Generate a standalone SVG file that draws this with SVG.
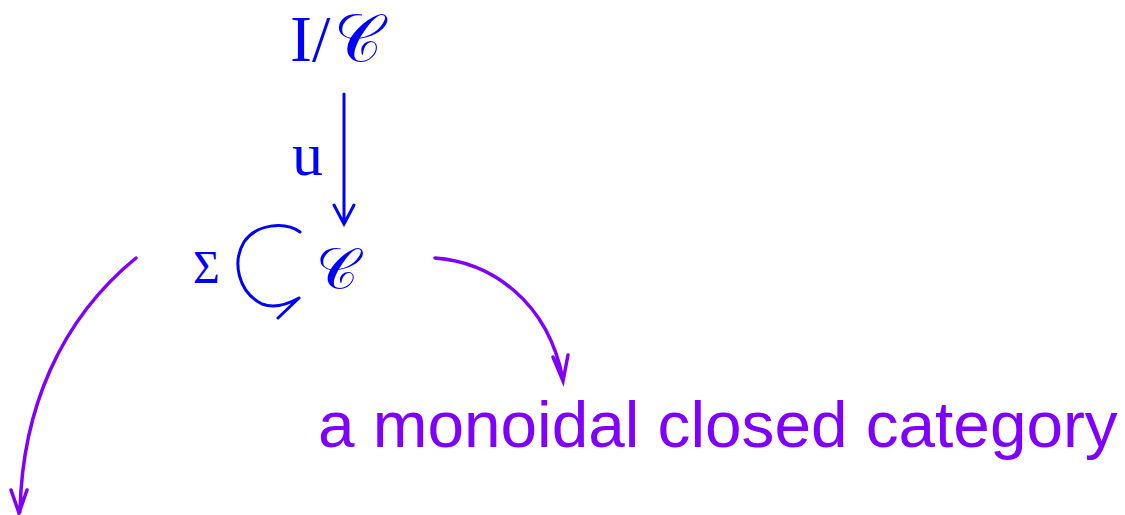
<svg xmlns="http://www.w3.org/2000/svg" width="1125" height="515" viewBox="0 0 1125 515">
<style>
.blue{fill:#0000ff;font-family:"Liberation Serif","DejaVu Serif",serif}
.purple{fill:#8000ff;font-family:"Liberation Sans",Arial,sans-serif}
.cb{fill:none;stroke:#0000ff;stroke-width:3;stroke-linecap:round}
.cp{fill:none;stroke:#8000ff;stroke-width:3.5;stroke-linecap:round}
</style>
<rect width="1125" height="515" fill="#ffffff"/>
<g id="node-IC"><text class="blue" x="290" y="61" font-size="66">I/<tspan dx="4">𝒞</tspan></text></g>
<g id="node-C"><text class="blue" x="316" y="289" font-size="58">𝒞</text></g>
<g id="node-text"><text class="purple" x="318" y="447" font-size="65.7">a monoidal closed category</text></g>
<g id="connectors">
<path class="cb" d="M344 94 L344 224 M334 205 L344 224 L354 205"/>
<text class="blue" x="292" y="175" font-size="62">u</text>
<path class="cb" d="M300 232 C285 221 256 224 244 242 C232 262 238 292 262 304 C275 309 290 303 299 298 M299 298 L278 318" stroke-width="3.5"/>
<text class="blue" x="193" y="283" font-size="46">Σ</text>
<path class="cp" d="M435 258 C490 262 548 300 563 380 M553 357 L563 381 L568 355"/>
<path class="cp" d="M136 258 C60 320 22 410 20 512 M11 490 L19 513 L27 490"/>
</g>
</svg>
